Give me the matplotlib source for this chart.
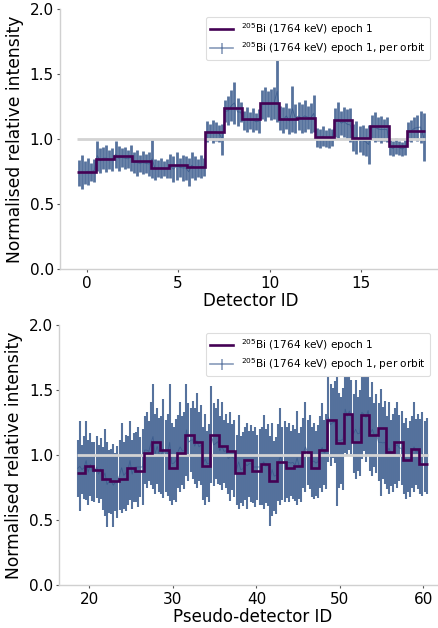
import numpy as np
import matplotlib
matplotlib.use("Agg")
import matplotlib.pyplot as plt

# ---------------- data ----------------
top_ids = list(range(0, 19))
top_step = [0.75, 0.85, 0.87, 0.83, 0.78, 0.80, 0.79, 1.056, 1.24, 1.155,
            1.283, 1.155, 1.165, 1.02, 1.148, 1.01, 1.10, 0.95, 1.063]
# per-orbit envelope (upper / lower end of each orbit's error bar), per detector
top_upper = [
    [0.84, 0.88, 0.83, 0.86, 0.82, 0.85],
    [0.99, 0.93, 0.94, 0.96, 0.92, 0.93],
    [0.99, 0.95, 0.93, 0.94, 0.92, 0.96],
    [0.90, 0.92, 0.88, 0.91, 0.89, 0.90],
    [1.00, 0.85, 0.84, 0.86, 0.83, 0.85],
    [0.89, 0.87, 0.90, 0.86, 0.88, 0.87],
    [0.86, 0.90, 0.87, 0.85, 0.88, 0.86],
    [1.14, 1.12, 1.15, 1.13, 1.11, 1.12],
    [1.30, 1.33, 1.38, 1.44, 1.32, 1.29],
    [1.22, 1.25, 1.21, 1.24, 1.20, 1.23],
    [1.38, 1.40, 1.37, 1.39, 1.40, 1.61],
    [1.26, 1.25, 1.28, 1.24, 1.41, 1.27],
    [1.29, 1.27, 1.30, 1.26, 1.28, 1.34],
    [1.09, 1.08, 1.10, 1.07, 1.09, 1.08],
    [1.24, 1.29, 1.22, 1.25, 1.23, 1.24],
    [1.12, 1.14, 1.10, 1.11, 1.09, 1.11],
    [1.19, 1.21, 1.17, 1.18, 1.16, 1.17],
    [1.00, 0.99, 1.01, 0.99, 0.98, 1.00],
    [1.13, 1.15, 1.17, 1.19, 1.22, 1.20],
]
top_lower = [
    [0.64, 0.62, 0.66, 0.65, 0.68, 0.67],
    [0.76, 0.74, 0.77, 0.75, 0.77, 0.76],
    [0.78, 0.76, 0.79, 0.77, 0.78, 0.76],
    [0.74, 0.72, 0.75, 0.73, 0.74, 0.72],
    [0.70, 0.69, 0.71, 0.70, 0.72, 0.70],
    [0.70, 0.67, 0.69, 0.71, 0.68, 0.69],
    [0.64, 0.70, 0.69, 0.71, 0.70, 0.72],
    [0.98, 1.00, 0.97, 0.99, 0.98, 0.88],
    [1.13, 1.11, 1.14, 1.12, 1.10, 1.13],
    [1.07, 1.06, 1.08, 1.06, 1.07, 1.05],
    [1.16, 1.14, 1.17, 1.15, 1.16, 1.13],
    [1.07, 1.05, 1.08, 1.04, 1.06, 1.05],
    [1.07, 1.05, 1.06, 1.08, 1.05, 1.06],
    [0.94, 0.93, 0.95, 0.94, 0.93, 0.95],
    [1.02, 1.01, 1.03, 1.02, 1.00, 0.98],
    [0.91, 0.89, 0.90, 0.88, 0.87, 0.81],
    [1.00, 0.98, 0.99, 0.97, 0.99, 0.98],
    [0.88, 0.87, 0.89, 0.88, 0.87, 0.88],
    [0.99, 0.98, 1.00, 0.99, 0.97, 0.83],
]

bot_ids = list(range(19, 61))
bot_step = [0.86, 0.92, 0.885, 0.82, 0.80, 0.82, 0.90, 0.88, 1.02, 1.10,
            1.04, 0.905, 1.02, 1.16, 1.10, 0.92, 1.16, 1.07, 1.03, 0.86,
            0.96, 0.88, 0.93, 0.80, 0.95, 0.90, 0.92, 1.025, 0.905, 1.04,
            1.27, 1.095, 1.32, 1.10, 1.31, 1.16, 1.21, 1.025, 1.10, 0.96,
            1.05, 0.93]
bot_upper = [
    [1.12, 1.26, 1.08, 1.15], [1.26, 1.12, 1.17, 1.10], [1.10, 1.15, 1.08, 1.13],
    [1.06, 1.20, 1.10, 1.04], [1.05, 1.09, 1.02, 1.07], [1.12, 1.25, 1.10, 1.16],
    [1.15, 1.26, 1.12, 1.17], [1.18, 1.22, 1.14, 1.20], [1.30, 1.33, 1.26, 1.41],
    [1.55, 1.32, 1.36, 1.29], [1.30, 1.43, 1.27, 1.32], [1.55, 1.25, 1.22, 1.28],
    [1.31, 1.41, 1.30, 1.33], [1.55, 1.40, 1.36, 1.42], [1.36, 1.48, 1.33, 1.39],
    [1.22, 1.32, 1.19, 1.24], [1.53, 1.40, 1.36, 1.43], [1.30, 1.41, 1.27, 1.32],
    [1.25, 1.33, 1.24, 1.27], [1.16, 1.31, 1.15, 1.18], [1.22, 1.25, 1.19, 1.23],
    [1.19, 1.22, 1.16, 1.20], [1.22, 1.31, 1.20, 1.24], [1.15, 1.25, 1.11, 1.14],
    [1.24, 1.36, 1.22, 1.26], [1.22, 1.25, 1.19, 1.23], [1.20, 1.34, 1.17, 1.22],
    [1.29, 1.41, 1.27, 1.31], [1.22, 1.25, 1.19, 1.23], [1.30, 1.40, 1.27, 1.32],
    [1.64, 1.55, 1.52, 1.57], [1.63, 1.48, 1.45, 1.52], [1.69, 1.60, 1.64, 1.58],
    [1.47, 1.58, 1.45, 1.50], [1.69, 1.60, 1.63, 1.69], [1.45, 1.56, 1.40, 1.47],
    [1.40, 1.51, 1.37, 1.42], [1.30, 1.41, 1.27, 1.32], [1.36, 1.41, 1.31, 1.34],
    [1.25, 1.29, 1.21, 1.26], [1.30, 1.41, 1.28, 1.32], [1.28, 1.33, 1.26, 1.29],
]
bot_lower = [
    [0.68, 0.57, 0.70, 0.66], [0.66, 0.62, 0.69, 0.65], [0.64, 0.67, 0.63, 0.66],
    [0.58, 0.53, 0.45, 0.56], [0.55, 0.45, 0.57, 0.52], [0.58, 0.56, 0.59, 0.57],
    [0.62, 0.66, 0.59, 0.64], [0.64, 0.60, 0.68, 0.62], [0.78, 0.75, 0.80, 0.77],
    [0.74, 0.70, 0.78, 0.72], [0.70, 0.67, 0.72, 0.69], [0.65, 0.62, 0.66, 0.64],
    [0.75, 0.72, 0.77, 0.74], [0.84, 0.80, 0.87, 0.82], [0.78, 0.75, 0.80, 0.77],
    [0.66, 0.62, 0.68, 0.64], [0.79, 0.76, 0.82, 0.78], [0.77, 0.73, 0.79, 0.75],
    [0.70, 0.65, 0.73, 0.68], [0.62, 0.59, 0.63, 0.61], [0.66, 0.59, 0.68, 0.64],
    [0.63, 0.60, 0.66, 0.62], [0.62, 0.59, 0.63, 0.61], [0.46, 0.53, 0.57, 0.55],
    [0.65, 0.62, 0.66, 0.64], [0.67, 0.64, 0.69, 0.66], [0.65, 0.62, 0.66, 0.64],
    [0.75, 0.72, 0.77, 0.74], [0.68, 0.66, 0.69, 0.67], [0.75, 0.72, 0.77, 0.74],
    [0.95, 0.92, 0.98, 0.94], [0.61, 0.75, 0.78, 0.73], [1.02, 1.00, 1.04, 1.01],
    [0.86, 0.82, 0.88, 0.84], [0.97, 1.03, 0.95, 1.00], [0.88, 0.84, 0.91, 0.86],
    [0.80, 0.69, 0.82, 0.78], [0.74, 0.70, 0.76, 0.72], [0.78, 0.75, 0.80, 0.77],
    [0.70, 0.66, 0.72, 0.68], [0.75, 0.72, 0.77, 0.74], [0.70, 0.69, 0.72, 0.70],
]

label_step = r'$^{205}$Bi (1764 keV) epoch 1'
label_orbit = r'$^{205}$Bi (1764 keV) epoch 1, per orbit'

STEP_C = '#440154'
ORBIT_C = '#38598c'
REF_C = '#d3d3d3'

W, H = 439, 628
fig = plt.figure(figsize=(W / 100, H / 100), dpi=100)


def orbit_arrays(ids, upper, lower):
    xs, cs, es = [], [], []
    for d, up, lo in zip(ids, upper, lower):
        n = len(up)
        for k in range(n):
            xs.append(d - 0.5 + (k + 0.5) / n)
            cs.append((up[k] + lo[k]) / 2)
            es.append((up[k] - lo[k]) / 2)
    return np.array(xs), np.array(cs), np.array(es)


def panel(rect, ids, step, upper, lower, xlim, xticks, xlabel, elw):
    ax = fig.add_axes(rect)
    ids = np.array(ids)
    xs, cs, es = orbit_arrays(ids, upper, lower)
    edges = np.append(ids - 0.5, ids[-1] + 0.5)
    step_art = ax.stairs(step, edges, color=STEP_C, lw=1.9, zorder=4,
                         baseline=None)
    ax.errorbar(xs, cs, yerr=es, fmt='-', color=ORBIT_C, lw=0.6,
                elinewidth=elw, alpha=0.85, zorder=2)
    ax.hlines(1.0, edges[0], edges[-1], color=REF_C, lw=2.0, zorder=3)
    # legend proxies (no data)
    step_proxy, = ax.plot([], [], color=STEP_C, lw=1.9)
    orbit_proxy = ax.errorbar([], [], yerr=[], fmt='-', color=ORBIT_C,
                              lw=1.2, elinewidth=1.2, alpha=0.6)
    ax.set_xlim(*xlim)
    ax.set_ylim(0, 2.0)
    ax.set_xticks(xticks)
    ax.set_yticks([0.0, 0.5, 1.0, 1.5, 2.0])
    ax.set_yticklabels(['0.0', '0.5', '1.0', '1.5', '2.0'])
    for s in ['top', 'right']:
        ax.spines[s].set_visible(False)
    for s in ['left', 'bottom']:
        ax.spines[s].set_color('#d0d0d0')
        ax.spines[s].set_linewidth(1.0)
    ax.tick_params(axis='both', labelsize=11, length=2.5, width=0.8,
                   color='#555555', pad=2)
    ax.set_xlabel(xlabel, fontsize=12, labelpad=1)
    ax.set_ylabel('Normalised relative intensity', fontsize=12.3, labelpad=4)
    leg = ax.legend([step_proxy, orbit_proxy], [label_step, label_orbit],
                    loc='upper right', fontsize=7.6, framealpha=1.0,
                    edgecolor='#dddddd', handlelength=2.2, borderpad=0.4,
                    labelspacing=0.35, handletextpad=0.7,
                    bbox_to_anchor=(435 / W, rect[1] + rect[3] - 2 / H),
                    bbox_transform=fig.transFigure)
    leg.get_frame().set_linewidth(0.8)
    return ax


# top panel
top_rect = [60 / W, 1 - 269.3 / H, 382.5 / W, 260 / H]
panel(top_rect, top_ids, top_step, top_upper, top_lower, (-1.45, 19.45),
      [0, 5, 10, 15], 'Detector ID', 2.0)

bot_rect = [59.2 / W, 1 - 585.3 / H, 386 / W, 260 / H]
panel(bot_rect, bot_ids, bot_step, bot_upper, bot_lower, (16.4, 62.6),
      [20, 30, 40, 50, 60], 'Pseudo-detector ID', 1.5)

fig.savefig('out.png', dpi=100)
